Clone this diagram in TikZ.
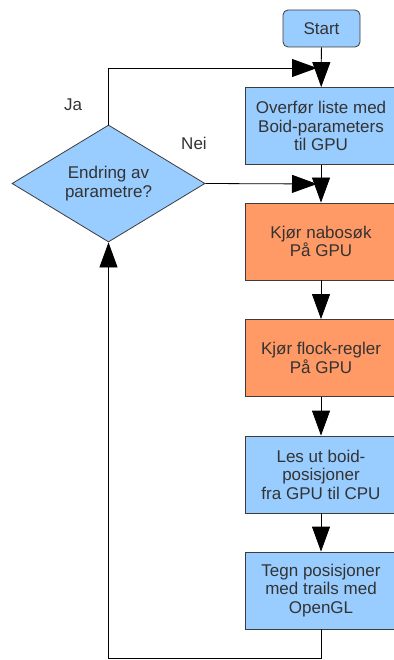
\documentclass[tikz,border=0pt]{standalone}
\usepackage{fontspec}
\setmainfont{Liberation Sans}
\usetikzlibrary{arrows.meta, shapes.geometric}
\definecolor{boxblue}{HTML}{99CCFF}
\definecolor{boxorange}{HTML}{FF9966}
\definecolor{txtgray}{HTML}{333333}
\definecolor{edgegray}{HTML}{3C3C3C}

\begin{document}
\begin{tikzpicture}[x=1pt, y=-1pt,
    txt/.style={text=txtgray, font=\fontsize{17}{18.5}\selectfont, align=center},
    stepbox/.style={txt, draw=edgegray, line width=0.8pt, minimum width=152pt, minimum height=77pt, inner sep=0pt},
    arr/.style={-{Triangle[length=25pt, width=18pt]}, line width=0.8pt, black}]
    \useasboundingbox (0,0) rectangle (393,660);
    % Start and main column
    \node[stepbox, fill=boxblue, rounded corners=5pt, minimum width=77pt, minimum height=37pt] (start) at (321.5,28.5) {Start};
    \node[stepbox, fill=boxblue] (overfor) at (321,126) {Overfør liste med\\Boid-parameters\\til GPU};
    \node[stepbox, fill=boxorange] (nabo) at (321,241.5) {Kjør nabosøk\\På GPU};
    \node[stepbox, fill=boxorange] (flock) at (321,358) {Kjør flock-regler\\På GPU};
    \node[stepbox, fill=boxblue] (les) at (321,474.5) {Les ut boid-\\posisjoner\\fra GPU til CPU};
    \node[stepbox, fill=boxblue] (tegn) at (321,590.5) {Tegn posisjoner\\med trails med\\OpenGL};
    % Decision
    \node[txt, diamond, draw=edgegray, line width=0.8pt, fill=boxblue, inner sep=0pt, aspect=1.65, minimum width=193pt, minimum height=117pt] (endring) at (108.5,183.5) {Endring av\\parametre?};
    \node[txt] (ja) at (73,105) {Ja};
    \node[txt] (nei) at (194,143) {Nei};
    % Connectors
    \coordinate (jainn) at (317,68);
    \coordinate (neiinn) at (317,184);
    \coordinate (bunn) at (108.5,658);
    \draw[arr] (start) -- (overfor);
    \draw[arr] (overfor) -- (nabo);
    \draw[arr] (nabo) -- (flock);
    \draw[arr] (flock) -- (les);
    \draw[arr] (les) -- (tegn);
    \draw[arr] (endring.north) |- (jainn);
    \draw[arr] (endring.east) -- (neiinn);
    \draw[arr] (tegn.south) |- (bunn) -- (endring.south);
\end{tikzpicture}
\end{document}
